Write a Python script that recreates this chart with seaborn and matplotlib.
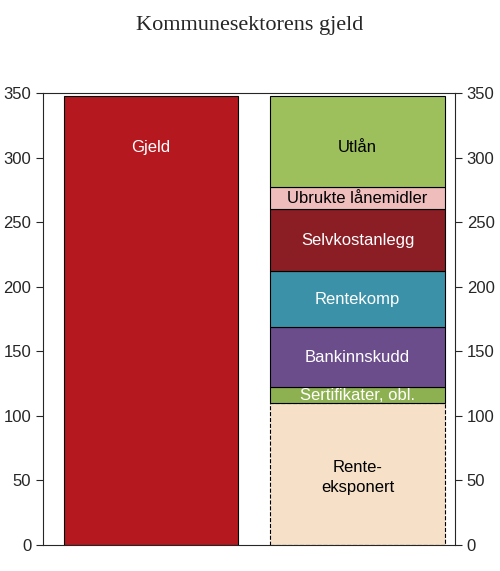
import matplotlib
matplotlib.use("Agg")
import matplotlib.pyplot as plt
import seaborn as sns
import pandas as pd

bars = ["Gjeld", "Fordring"]
gjeld_value = 348
seg_labels = ["Rente-\neksponert", "Sertifikater, obl.", "Bankinnskudd", "Rentekomp",
              "Selvkostanlegg", "Ubrukte lånemidler", "Utlån"]
seg_values = [110, 12, 47, 43, 48, 17, 71]
seg_colors = ["#F6E1C8", "#8DB150", "#6B4D8C", "#3B91A8", "#8B1D25", "#F0BDBD", "#9DC05C"]
seg_text = ["black", "white", "white", "white", "white", "black", "black"]
yticks = [0, 50, 100, 150, 200, 250, 300, 350]

sns.set_style("ticks")
plt.rcParams['font.family'] = ['Liberation Sans', 'DejaVu Sans']
fig = plt.figure(figsize=(5, 5.71), dpi=100)
ax = fig.add_axes([0.086, 0.0455, 0.824, 0.7915])

df = pd.DataFrame({"x": [bars[0]], "y": [gjeld_value]})
sns.barplot(data=df, x="x", y="y", color="#B5191F", saturation=1, width=0.843,
            edgecolor="black", linewidth=0.8, ax=ax)
ax.text(0, 308, "Gjeld", color="white", ha="center", va="center", fontsize=12)

bottom = 0
for i, (lab, v, c, tc) in enumerate(zip(seg_labels, seg_values, seg_colors, seg_text)):
    ls = "--" if i == 0 else "-"
    ax.bar(1, v, bottom=bottom, width=0.843, color=c, edgecolor="black",
           linewidth=0.8, linestyle=ls)
    y = bottom + v / 2 if i != len(seg_values) - 1 else 308
    if i == 0:
        y = 52
    ax.text(1, y, lab, color=tc, ha="center", va="center", fontsize=12, linespacing=1.4)
    bottom += v

ax.set_xlim(-0.523, 1.472)
ax.set_ylim(0, 350)
ax.set_yticks(yticks)
ax.set_xticks([])
ax.set_xlabel("")
ax.set_ylabel("")
ax.tick_params(axis="y", which="both", left=True, right=True, labelleft=True,
               labelright=True, direction="out", labelsize=12, length=5)
for s in ax.spines.values():
    s.set_visible(True)
    s.set_linewidth(0.8)
fig.text(0.5, 0.955, "Kommunesektorens gjeld", ha="center", va="center",
         fontsize=16, family=["Liberation Serif", "DejaVu Serif"])
fig.savefig("out.png", dpi=100)
